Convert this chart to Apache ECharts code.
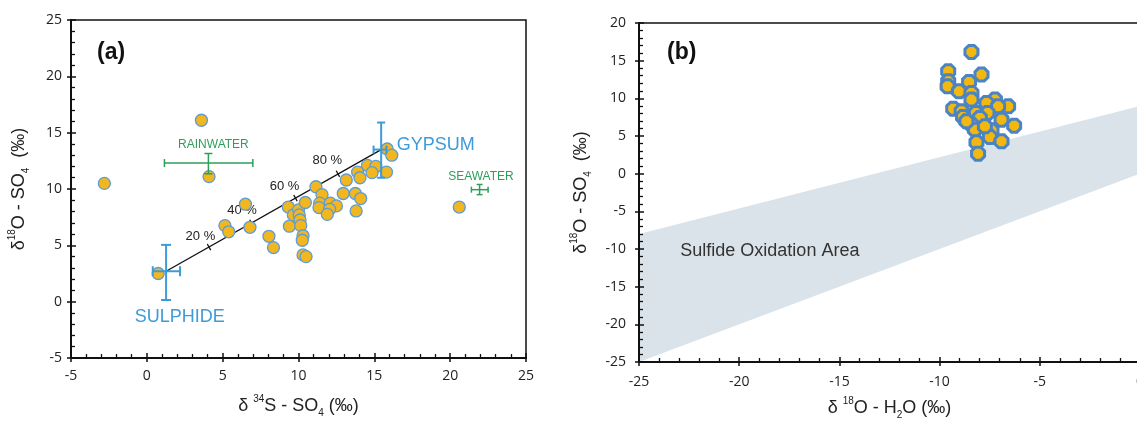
<!DOCTYPE html>
<html>
<head>
<meta charset="utf-8">
<style>
  html, body { margin: 0; padding: 0; background: #fff; }
  #chart { width: 1137px; height: 423px; }
</style>
</head>
<body>
<div id="chart"></div>
<script src="https://cdn.jsdelivr.net/npm/echarts/dist/echarts.min.js"></script>
<script>
// ---------- panel (a): d34S-SO4 vs d18O-SO4 ----------
var sulfateS34 = [-2.8, 3.6, 4.1, 0.75, 5.15, 5.4, 6.5, 6.8, 8.05, 8.35, 9.33, 9.4, 9.66, 10.0, 10.05,
  10.1, 10.15, 10.45, 10.3, 10.25, 10.3, 10.5, 11.15, 11.55, 11.4, 11.35, 12.1, 12.5, 12.05, 11.9,
  12.95, 13.15, 13.75, 13.8, 14.1, 13.9, 14.05, 14.55, 15.1, 14.85, 15.8, 15.85, 16.15, 20.6];
var sulfateO18 = [10.5, 16.1, 11.1, 2.5, 6.75, 6.2, 8.65, 6.6, 5.8, 4.8, 8.4, 6.7, 7.7, 8.15, 7.7,
  7.25, 6.75, 8.8, 5.85, 5.45, 4.15, 4.0, 10.2, 9.5, 8.75, 8.35, 8.75, 8.5, 8.2, 7.75,
  9.6, 10.8, 9.6, 8.05, 9.15, 11.5, 11.0, 12.1, 12.0, 11.45, 11.5, 13.55, 13.0, 8.4];

// end members (centre and error range)
var endMembers = ['SULPHIDE', 'GYPSUM', 'RAINWATER', 'SEAWATER'];
var endMemberX = [1.27, 15.45, 4.06, 21.94];
var endMemberY = [2.7, 13.5, 12.3, 9.94];
var endMemberXRange = [[0.39, 2.19], [14.95, 15.8], [1.16, 6.99], [21.4, 22.5]];
var endMemberYRange = [[0.15, 5.04], [11.0, 15.9], [11.35, 13.15], [9.5, 10.4]];
var endLabelX = [2.17, 19.05, 4.39, 22.03];
var endLabelY = [-1.33, 13.9, 13.9, 11.1];

// mixing line ticks
var mixLabels = ['20 %', '40 %', '60 %', '80 %'];
var mixTickX = [4.1, 6.9, 9.8, 12.6];
var mixTickY = [4.85, 7.0, 9.2, 11.35];
var mixLabelX = [3.53, 6.28, 9.08, 11.9];
var mixLabelY = [5.77, 8.08, 10.27, 12.5];

// ---------- panel (b): d18O-H2O vs d18O-SO4 ----------
var waterO18 = [-8.41, -9.57, -9.57, -9.6, -7.91, -8.53, -9.03, -8.41, -8.41, -7.24, -7.66, -6.58,
  -7.08, -9.32, -8.9, -8.19, -7.61, -8.83, -6.91, -7.99, -8.41, -6.28, -8.24, -7.41, -7.49,
  -6.91, -8.16, -8.08, -8.66, -7.74];
var sulfateO18b = [16.16, 13.59, 12.26, 11.6, 13.15, 12.18, 10.93, 10.71, 9.83, 9.83, 9.39, 8.94,
  8.94, 8.63, 8.28, 8.06, 8.06, 7.53, 7.17, 7.4, 6.51, 6.37, 5.84, 5.75, 4.87,
  4.29, 4.16, 2.66, 6.95, 6.28];

var bandX = [-25, 0];
var bandUpper = [-8, 9];
var bandLower = [-25, 0];
var areaLabel = 'Sulfide Oxidation Area';
var areaLabelX = -18.47;
var areaLabelY = -10.3;

// ---------- styles ----------
var blue = '#3C9BD8', green = '#2E9E5B';
var endColor = [blue, blue, green, green];
var endFont = [18, 18, 12, 12];
var endWidth = [2, 2, 1.5, 1.5];
var endCap = [5, 4, 4, 3];
var labelFont = 'Liberation Sans';
var tickFont = 'Open Sans';

var chart = echarts.init(document.getElementById('chart'));

function nameStyle() {
  return {
    fontFamily: labelFont, color: '#222',
    rich: {
      n: { fontSize: 18, fontFamily: labelFont, color: '#222', lineHeight: 24 },
      sup: { fontSize: 10, fontFamily: labelFont, color: '#222', verticalAlign: 'top', lineHeight: 24, padding: [0, 0, 9, 0] },
      sub: { fontSize: 10, fontFamily: labelFont, color: '#222', verticalAlign: 'bottom', lineHeight: 24, padding: [7, 0, 0, 0] }
    }
  };
}

function mainAxis(grid, min, max, pos, name, gap, labelMargin) {
  return {
    type: 'value', gridIndex: grid, min: min, max: max, interval: 5, position: pos, z: 10,
    name: name, nameLocation: 'middle', nameGap: gap, nameRotate: (pos === 'left' ? 90 : 0),
    nameTextStyle: nameStyle(),
    axisLine: { show: true, onZero: false, lineStyle: { color: '#111', width: 2 } },
    axisTick: { show: true, inside: true, length: 5, lineStyle: { color: '#111', width: 1.5 } },
    minorTick: { show: true, splitNumber: 5, length: 4, lineStyle: { color: '#111', width: 1.3 } },
    axisLabel: { color: '#222', fontSize: 14, fontFamily: tickFont, margin: labelMargin },
    splitLine: { show: false }
  };
}

function outerAxis(grid, min, max, pos) {
  return {
    type: 'value', gridIndex: grid, min: min, max: max, interval: 5, position: pos, z: 10,
    axisLine: { show: false, onZero: false },
    axisTick: { show: true, inside: false, length: 4, lineStyle: { color: '#111', width: 1.5 } },
    axisLabel: { show: false },
    splitLine: { show: false }
  };
}

function renderErrorBar(params, api) {
  var i = params.dataIndex;
  var cx = api.value(0), cy = api.value(1);
  var xl = api.coord([api.value(2), cy]), xh = api.coord([api.value(3), cy]);
  var yl = api.coord([cx, api.value(4)]), yh = api.coord([cx, api.value(5)]);
  var c = endCap[i];
  var st = { stroke: endColor[i], lineWidth: endWidth[i], fill: null };
  function seg(x1, y1, x2, y2) {
    return { type: 'line', shape: { x1: x1, y1: y1, x2: x2, y2: y2 }, style: st };
  }
  return {
    type: 'group',
    children: [
      seg(xl[0], xl[1], xh[0], xh[1]),
      seg(yl[0], yl[1], yh[0], yh[1]),
      seg(xl[0], xl[1] - c, xl[0], xl[1] + c),
      seg(xh[0], xh[1] - c, xh[0], xh[1] + c),
      seg(yl[0] - c, yl[1], yl[0] + c, yl[1]),
      seg(yh[0] - c, yh[1], yh[0] + c, yh[1])
    ]
  };
}

function renderText(texts, colors, sizes) {
  return function (params, api) {
    var i = params.dataIndex;
    var p = api.coord([api.value(0), api.value(1)]);
    return {
      type: 'text', x: p[0], y: p[1],
      style: {
        text: texts[i], fill: colors[i], align: 'center', verticalAlign: 'middle',
        font: sizes[i] + 'px "' + labelFont + '"'
      }
    };
  };
}

// mixing-line tick marks, drawn perpendicular to the line
function renderMixTicks(params, api) {
  var a = api.coord([endMemberX[0], endMemberY[0]]);
  var b = api.coord([endMemberX[1], endMemberY[1]]);
  var dx = b[0] - a[0], dy = b[1] - a[1];
  var len = Math.sqrt(dx * dx + dy * dy);
  var nx = -dy / len * 3.5, ny = dx / len * 3.5;
  var p = api.coord([api.value(0), api.value(1)]);
  return {
    type: 'line',
    shape: { x1: p[0] - nx, y1: p[1] - ny, x2: p[0] + nx, y2: p[1] + ny },
    style: { stroke: '#111', lineWidth: 1.3 }
  };
}

function renderBand(params, api) {
  var pts = [
    api.coord([bandX[0], bandUpper[0]]), api.coord([bandX[1], bandUpper[1]]),
    api.coord([bandX[1], bandLower[1]]), api.coord([bandX[0], bandLower[0]])
  ];
  return { type: 'polygon', shape: { points: pts }, style: { fill: '#DAE3EA' } };
}

var option = {
  animation: false,
  backgroundColor: '#fff',
  title: [
    { text: '(a)', left: 92, top: 36, textStyle: { fontSize: 23, fontWeight: 'bold', fontFamily: labelFont, color: '#111' } },
    { text: '(b)', left: 662, top: 36, textStyle: { fontSize: 23, fontWeight: 'bold', fontFamily: labelFont, color: '#111' } }
  ],
  grid: [
    { left: 71, top: 20, width: 455, height: 338, show: true, z: 10, borderColor: '#111', borderWidth: 1.5, backgroundColor: 'transparent', outerBoundsMode: 'none' },
    { left: 639, top: 23, width: 501, height: 339, show: true, z: 10, borderColor: '#111', borderWidth: 1.5, backgroundColor: 'transparent', outerBoundsMode: 'none' }
  ],
  xAxis: [
    mainAxis(0, -5, 25, 'bottom', '{n|δ }{sup|34}{n|S - SO}{sub|4}{n| (‰)}', 36, 11),
    outerAxis(0, -5, 25, 'bottom'),
    mainAxis(1, -25, 0, 'bottom', '{n|δ }{sup|18}{n|O - H}{sub|2}{n|O (‰)}', 34, 13),
    outerAxis(1, -25, 0, 'bottom')
  ],
  yAxis: [
    mainAxis(0, -5, 25, 'left', '{n|δ}{sup|18}{n|O - SO}{sub|4}{n|  (‰)}', 40, 9),
    outerAxis(0, -5, 25, 'left'),
    mainAxis(1, -25, 20, 'left', '{n|δ}{sup|18}{n|O - SO}{sub|4}{n|  (‰)}', 46, 13),
    outerAxis(1, -25, 20, 'left')
  ],
  series: [
    {
      type: 'line', xAxisIndex: 0, yAxisIndex: 0, z: 2,
      data: [[endMemberX[0], endMemberY[0]], [endMemberX[1], endMemberY[1]]],
      symbol: 'none', lineStyle: { color: '#111', width: 1.3 }
    },
    {
      type: 'custom', xAxisIndex: 0, yAxisIndex: 0, z: 2,
      renderItem: renderMixTicks,
      data: mixTickX.map(function (x, i) { return [x, mixTickY[i]]; })
    },
    {
      type: 'custom', xAxisIndex: 0, yAxisIndex: 0, z: 2,
      renderItem: renderText(mixLabels, mixLabels.map(function () { return '#222'; }), mixLabels.map(function () { return 13; })),
      data: mixLabelX.map(function (x, i) { return [x, mixLabelY[i]]; })
    },
    {
      type: 'scatter', xAxisIndex: 0, yAxisIndex: 0, z: 3,
      symbol: 'circle', symbolSize: 12,
      itemStyle: { color: '#F2B61F', borderColor: '#5E9CD6', borderWidth: 1.3, opacity: 1 },
      data: sulfateS34.map(function (x, i) { return [x, sulfateO18[i]]; })
    },
    {
      type: 'custom', xAxisIndex: 0, yAxisIndex: 0, z: 4,
      renderItem: renderErrorBar,
      data: endMembers.map(function (n, i) {
        return [endMemberX[i], endMemberY[i], endMemberXRange[i][0], endMemberXRange[i][1], endMemberYRange[i][0], endMemberYRange[i][1]];
      })
    },
    {
      type: 'custom', xAxisIndex: 0, yAxisIndex: 0, z: 4,
      renderItem: renderText(endMembers, endColor, endFont),
      data: endLabelX.map(function (x, i) { return [x, endLabelY[i]]; })
    },
    {
      type: 'custom', xAxisIndex: 2, yAxisIndex: 2, z: 1,
      renderItem: renderBand,
      data: [[bandX[0], bandUpper[0]]]
    },
    {
      type: 'custom', xAxisIndex: 2, yAxisIndex: 2, z: 2,
      renderItem: renderText([areaLabel], ['#333'], [18]),
      data: [[areaLabelX, areaLabelY]]
    },
    {
      type: 'scatter', xAxisIndex: 2, yAxisIndex: 2, z: 3,
      symbol: 'path://M29,0 L71,0 L100,29 L100,71 L71,100 L29,100 L0,71 L0,29 Z',
      symbolSize: 13,
      itemStyle: { color: '#F2B80F', borderColor: '#4B84C4', borderWidth: 3, opacity: 1 },
      data: waterO18.map(function (x, i) { return [x, sulfateO18b[i]]; })
    }
  ]
};
chart.setOption(option);
</script>
</body>
</html>
